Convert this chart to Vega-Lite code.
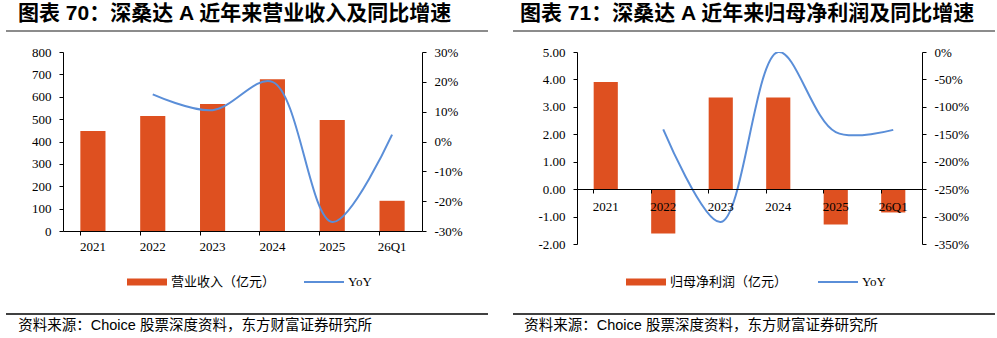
{
  "$schema": "https://vega.github.io/schema/vega-lite/v6.json",
  "background": "white",
  "padding": {"left": 5, "top": 3, "right": 0, "bottom": 0},
  "spacing": 23,
  "resolve": {"scale": {"color": "independent"}, "legend": {"color": "independent"}},
  "config": {
    "view": {"stroke": null},
    "axis": {"grid": false, "domainColor": "#000000", "tickColor": "#000000", "labelColor": "#000000", "labelFont": "Liberation Serif", "labelFontSize": 13, "domainWidth": 1, "tickWidth": 1},
    "legend": {"labelFont": "Liberation Serif, Noto Sans CJK SC", "labelFontSize": 13, "labelColor": "#000000"}
  },
  "hconcat": [
    {
      "vconcat": [
        {
          "width": 473, "height": 1,
          "data": {"values": [{"a": 0, "b": 1.019}]},
          "mark": {"type": "rule", "color": "#8c8c8c", "strokeWidth": 2},
          "encoding": {
            "x": {"field": "a", "type": "quantitative", "scale": {"domain": [0, 1]}, "axis": null},
            "x2": {"field": "b"},
            "y": {"datum": 0, "type": "quantitative", "scale": {"domain": [0, 1]}, "axis": null}
          },
          "title": {"text": "图表 70：深桑达 A 近年来营业收入及同比增速", "anchor": "start", "dx": 13, "fontSize": 21, "fontWeight": "bold", "font": "Liberation Sans, Noto Sans CJK SC", "color": "#000000", "offset": 6}
        },
        {
          "width": 359, "height": 179,
          "data": {"values": [
            {"period": "2021", "revenue": 447, "yoy": null},
            {"period": "2022", "revenue": 514, "yoy": 0.158},
            {"period": "2023", "revenue": 568, "yoy": 0.105},
            {"period": "2024", "revenue": 678, "yoy": 0.2},
            {"period": "2025", "revenue": 496, "yoy": -0.27},
            {"period": "26Q1", "revenue": 135, "yoy": 0.023}
          ]},
          "layer": [
            {
              "mark": {"type": "bar"},
              "encoding": {
                "x": {"field": "period", "type": "ordinal", "sort": null, "scale": {"paddingInner": 0.58, "paddingOuter": 0.29},
                      "axis": {"title": null, "labelAngle": 0, "bandPosition": 0, "tickSize": 4, "labelPadding": 5}},
                "y": {"field": "revenue", "type": "quantitative", "scale": {"domain": [0, 800]},
                      "axis": {"title": null, "values": [0, 100, 200, 300, 400, 500, 600, 700, 800], "tickSize": 4, "labelPadding": 8}},
                "color": {"datum": "营业收入（亿元）", "type": "nominal",
                          "scale": {"domain": ["营业收入（亿元）", "YoY"], "range": ["#DE5020", "#5A8ED8"]},
                          "legend": {"title": null, "orient": "none", "legendX": 121, "legendY": 232, "direction": "horizontal", "columnPadding": 28, "labelOffset": 4, "symbolSize": 1600,
                                     "labelFont": "Liberation Serif, Noto Sans CJK SC", "labelFontSize": 13, "labelColor": "#000000",
                                     "encode": {"symbols": {"update": {
                                       "shape": {"signal": "datum.value === 'YoY' ? 'M-1,-0.05H1V0.05H-1Z' : 'M-1,-0.175H1V0.175H-1Z'"},
                                       "fill": {"signal": "datum.value === 'YoY' ? '#5A8ED8' : '#DE5020'"},
                                       "stroke": {"value": "transparent"},
                                       "strokeWidth": {"value": 0},
                                       "opacity": {"value": 1}
                                     }}}}}
              }
            },
            {
              "transform": [{"filter": "datum.yoy != null"}],
              "mark": {"type": "line", "interpolate": "catmull-rom", "strokeWidth": 2, "clip": true},
              "encoding": {
                "x": {"field": "period", "type": "ordinal", "sort": null},
                "y": {"field": "yoy", "type": "quantitative", "scale": {"domain": [-0.3, 0.3]},
                      "axis": {"title": null, "orient": "right", "values": [-0.3, -0.2, -0.1, 0, 0.1, 0.2, 0.3], "tickSize": 4, "labelPadding": 8,
                               "labelExpr": "(datum.value < -0.0001 ? '-' : '') + format(abs(datum.value), '.0%')"}},
                "color": {"datum": "YoY", "type": "nominal"}
              }
            }
          ],
          "resolve": {"scale": {"y": "independent"}}
        },
        {
          "width": 473, "height": 62,
          "data": {"values": [{"a": 0, "b": 1.019}]},
          "mark": {"type": "rule", "color": "#000000", "strokeWidth": 1.5},
          "encoding": {
            "x": {"field": "a", "type": "quantitative", "scale": {"domain": [0, 1]}, "axis": null},
            "x2": {"field": "b"},
            "y": {"datum": 0, "type": "quantitative", "scale": {"domain": [0, 1]}, "axis": null}
          },
          "title": {"text": "资料来源：Choice 股票深度资料，东方财富证券研究所", "orient": "bottom", "anchor": "start", "dx": 13, "fontSize": 14.5, "fontWeight": "normal", "font": "Liberation Sans, Noto Sans CJK SC", "color": "#000000", "offset": 4}
        }
      ],
      "spacing": 21,
      "bounds": "flush",
      "center": true
    },
    {
      "vconcat": [
        {
          "width": 473, "height": 1,
          "data": {"values": [{"a": 0, "b": 1.019}]},
          "mark": {"type": "rule", "color": "#8c8c8c", "strokeWidth": 2},
          "encoding": {
            "x": {"field": "a", "type": "quantitative", "scale": {"domain": [0, 1]}, "axis": null},
            "x2": {"field": "b"},
            "y": {"datum": 0, "type": "quantitative", "scale": {"domain": [0, 1]}, "axis": null}
          },
          "title": {"text": "图表 71：深桑达 A 近年来归母净利润及同比增速", "anchor": "start", "dx": 8, "fontSize": 21, "fontWeight": "bold", "font": "Liberation Sans, Noto Sans CJK SC", "color": "#000000", "offset": 6}
        },
        {
          "width": 345, "height": 192,
          "data": {"values": [
            {"period": "2021", "profit": 3.91, "yoy": null},
            {"period": "2022", "profit": -1.62, "yoy": -1.41},
            {"period": "2023", "profit": 3.34, "yoy": -3.1},
            {"period": "2024", "profit": 3.34, "yoy": 0.0},
            {"period": "2025", "profit": -1.29, "yoy": -1.46},
            {"period": "26Q1", "profit": -0.85, "yoy": -1.42}
          ]},
          "layer": [
            {
              "mark": {"type": "bar"},
              "encoding": {
                "x": {"field": "period", "type": "ordinal", "sort": null, "scale": {"paddingInner": 0.58, "paddingOuter": 0.29},
                      "axis": {"title": null, "labelAngle": 0, "bandPosition": 0, "tickSize": 4, "labelPadding": 7, "offset": -55, "zindex": 1}},
                "y": {"field": "profit", "type": "quantitative", "scale": {"domain": [-2, 5]},
                      "axis": {"title": null, "values": [-2, -1, 0, 1, 2, 3, 4, 5], "tickSize": 4, "labelPadding": 8,
                               "labelExpr": "(datum.value < 0 ? '-' : '') + format(abs(datum.value), '.2f')"}},
                "color": {"datum": "归母净利润（亿元）", "type": "nominal",
                          "scale": {"domain": ["归母净利润（亿元）", "YoY"], "range": ["#DE5020", "#5A8ED8"]},
                          "legend": {"title": null, "orient": "none", "legendX": 113, "legendY": 232, "direction": "horizontal", "columnPadding": 30, "labelOffset": 4, "symbolSize": 1600,
                                     "labelFont": "Liberation Serif, Noto Sans CJK SC", "labelFontSize": 13, "labelColor": "#000000",
                                     "encode": {"symbols": {"update": {
                                       "shape": {"signal": "datum.value === 'YoY' ? 'M-1,-0.05H1V0.05H-1Z' : 'M-1,-0.175H1V0.175H-1Z'"},
                                       "fill": {"signal": "datum.value === 'YoY' ? '#5A8ED8' : '#DE5020'"},
                                       "stroke": {"value": "transparent"},
                                       "strokeWidth": {"value": 0},
                                       "opacity": {"value": 1}
                                     }}}}}
              }
            },
            {
              "transform": [{"filter": "datum.yoy != null"}],
              "mark": {"type": "line", "interpolate": "catmull-rom", "strokeWidth": 2, "clip": true},
              "encoding": {
                "x": {"field": "period", "type": "ordinal", "sort": null},
                "y": {"field": "yoy", "type": "quantitative", "scale": {"domain": [-3.5, 0]},
                      "axis": {"title": null, "orient": "right", "values": [-3.5, -3, -2.5, -2, -1.5, -1, -0.5, 0], "tickSize": 4, "labelPadding": 8,
                               "labelExpr": "(datum.value < -0.0001 ? '-' : '') + format(abs(datum.value), '.0%')"}},
                "color": {"datum": "YoY", "type": "nominal"}
              }
            }
          ],
          "resolve": {"scale": {"y": "independent"}}
        },
        {
          "width": 473, "height": 49,
          "data": {"values": [{"a": 0, "b": 1.019}]},
          "mark": {"type": "rule", "color": "#000000", "strokeWidth": 1.5},
          "encoding": {
            "x": {"field": "a", "type": "quantitative", "scale": {"domain": [0, 1]}, "axis": null},
            "x2": {"field": "b"},
            "y": {"datum": 0, "type": "quantitative", "scale": {"domain": [0, 1]}, "axis": null}
          },
          "title": {"text": "资料来源：Choice 股票深度资料，东方财富证券研究所", "orient": "bottom", "anchor": "start", "dx": 12, "fontSize": 14.5, "fontWeight": "normal", "font": "Liberation Sans, Noto Sans CJK SC", "color": "#000000", "offset": 4}
        }
      ],
      "spacing": 21,
      "bounds": "flush",
      "center": true
    }
  ]
}
